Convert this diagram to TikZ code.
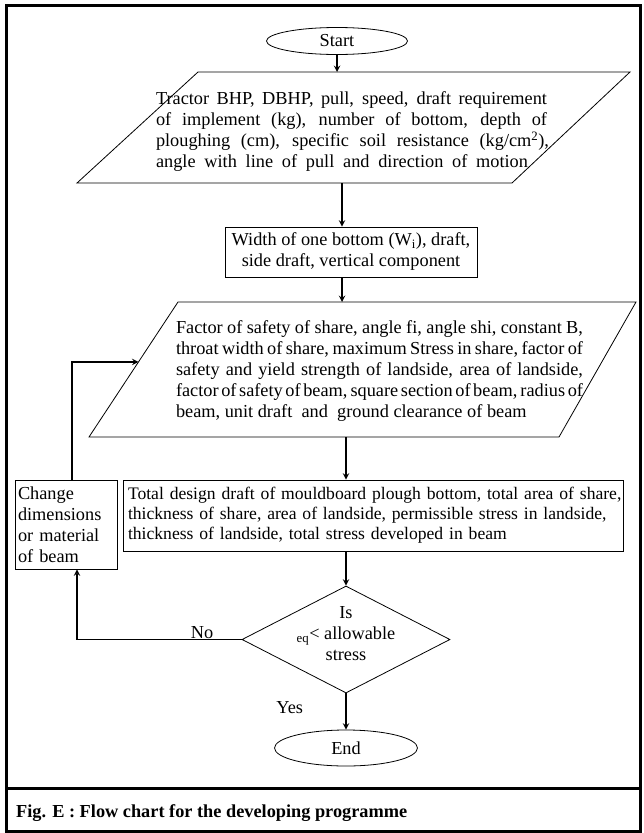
\documentclass[tikz,border=0pt]{standalone}
\usepackage{fontspec}
\setmainfont{Liberation Serif}[WordSpace={1,1,1.6}]
\usetikzlibrary{shapes.geometric, positioning, calc}
\newcommand{\fitline}[2]{\makebox[#1][s]{#2}}

\begin{document}
\begin{tikzpicture}[x=1pt, y=-1pt,
  term/.style={ellipse, draw, line width=0.8pt, inner sep=0pt},
  proc/.style={rectangle, draw, line width=0.8pt, inner ysep=0pt},
  dec/.style={diamond, draw, line width=0.8pt, inner sep=0pt},
  txt/.style={inner sep=0pt, font=\fontsize{18.3}{21}\selectfont},
  flow/.style={-stealth, line width=1.8pt}]
  \useasboundingbox (0,0) rectangle (643,833);

  % frame and caption
  \draw[line width=3pt] (6,5) rectangle (640,831);
  \draw[line width=3pt] (6,788) -- (640,788);
  \node[anchor=west, inner sep=0pt, font=\fontsize{18.3}{21}\selectfont\bfseries] (cap) at (16,813) {Fig. E : Flow chart for the developing programme};

  % input parallelograms
  \coordinate (in1tl) at (198,72);
  \coordinate (in1tr) at (630,72);
  \coordinate (in1br) at (512,183);
  \coordinate (in1bl) at (77,183);
  \draw[line width=0.8pt] (in1tl) -- (in1tr) -- (in1br) -- (in1bl) -- cycle;
  \coordinate (in2tl) at (178,302);
  \coordinate (in2tr) at (636,302);
  \coordinate (in2br) at (559,437);
  \coordinate (in2bl) at (89,437);
  \draw[line width=0.8pt] (in2tl) -- (in2tr) -- (in2br) -- (in2bl) -- cycle;
  \coordinate (in2in) at ($(in2bl)!0.556!(in2tl)$);

  % nodes
  \node[term, minimum width=141pt, minimum height=27pt, txt] (start) at (337,41) {Start};
  \node[txt, align=left] (in1) at (352.5,131.5) {\fitline{391pt}{Tractor BHP, DBHP, pull, speed, draft requirement}\\
    \fitline{391pt}{of implement (kg), number of bottom, depth of}\\
    \fitline{393pt}{ploughing (cm), specific soil resistance (kg/cm\textsuperscript{2}),}\\
    \fitline{372pt}{angle with line of pull and direction of motion}};
  \node[proc, txt, minimum width=252pt, minimum height=50pt, align=center] (w) at (351,252) {Width of one bottom (W$_\mathrm{i}$), draft,\\side draft, vertical component};
  \node[txt, align=left] (in2) at (379.5,371.5) {\fitline{407pt}{Factor of safety of share, angle fi, angle shi, constant B,}\\
    \fitline{407pt}{throat width of share, maximum Stress in share, factor of}\\
    \fitline{407pt}{safety and yield strength of landside, area of landside,}\\
    \fitline{407pt}{factor of safety of beam, square section of beam, radius of}\\
    beam, unit draft~ and~ ground clearance of beam};
  \node[proc, txt, font=\fontsize{17.6}{20}\selectfont, text width=491pt, inner xsep=4.5pt, minimum height=71pt, align=left] (out) at (373.5,515.5) {\fitline{491pt}{Total design draft of mouldboard plough bottom, total area of share,}\\
    \fitline{491pt}{thickness of share, area of landside, permissible stress in landside,}\\
    \fitline{400pt}{thickness of landside, total stress developed in beam}};
  \node[proc, txt, text width=96pt, inner xsep=3pt, minimum height=89pt, align=left] (chg) at (66,524.5) {Change\\dimensions\\or material\\of beam};
  \node[dec, minimum width=208pt, minimum height=107pt] (dec) at (346,639.5) {};
  \node[txt, align=center] (dect) at (346,634) {Is\\$_{\mathrm{eq}}$< allowable\\stress};
  \node[term, minimum width=143pt, minimum height=36pt, txt] (end) at (346,748) {End};

  % connectors
  \draw[flow] (start) -- (start.south |- in1tl);
  \draw[flow] ([xshift=-9pt]w.north |- in1bl) -- ([xshift=-9pt]w.north);
  \draw[flow] ([xshift=-9pt]w.south) -- ([xshift=-9pt]w.south |- in2tl);
  \draw[flow] (dec |- in2bl) -- (out.north -| dec);
  \draw[flow] (out.south -| dec) -- (dec);
  \draw[flow] (dec.west) -| node[txt, above, pos=0.12] (no) {No} ([xshift=11pt]chg.south);
  \draw[flow] ([xshift=6pt]chg.north) |- (in2in);
  \draw[flow] (dec) -- node[txt, left=42pt, pos=0.4] (yes) {Yes} (end);
\end{tikzpicture}
\end{document}
